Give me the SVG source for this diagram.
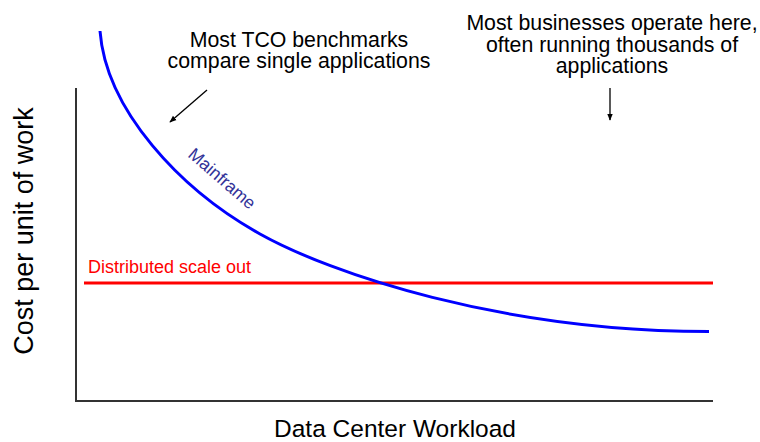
<svg xmlns="http://www.w3.org/2000/svg" width="760" height="442" viewBox="0 0 760 442">
  <style>
    text { font-family: "Liberation Sans", Arial, sans-serif; fill: #000; }
    .note { font-size: 21.3px; text-anchor: middle; }
    .axis-title { font-size: 24.5px; text-anchor: middle; }
    .axis { stroke: #333; stroke-width: 2; fill: none; }
    .pointer { stroke: #000; stroke-width: 1.3; fill: none; marker-end: url(#head); }
    .series { fill: none; stroke-width: 3; stroke-linecap: butt; }
  </style>
  <defs>
    <marker id="head" viewBox="0 0 10 10" refX="9" refY="5" markerWidth="7" markerHeight="7" markerUnits="userSpaceOnUse" orient="auto">
      <path d="M0,1 L10,5 L0,9 Z" fill="#000"/>
    </marker>
  </defs>
  <rect width="760" height="442" fill="#fff"/>

  <!-- axes -->
  <g id="axes">
    <polyline class="axis" points="76,88 76,401 713,401"/>
    <text class="axis-title" x="395" y="437">Data Center Workload</text>
    <text class="axis-title" style="font-size:27px" transform="translate(33,231) rotate(-90)">Cost per unit of work</text>
  </g>

  <!-- cost curves -->
  <g id="distributed">
    <line class="series" x1="84" y1="283" x2="713" y2="283" stroke="#ff0000"/>
    <text x="88" y="273" style="font-size:18px;fill:#ff0000">Distributed scale out</text>
  </g>
  <g id="mainframe">
    <path class="series" stroke="#0000ff" d="M100,31 C106,110 180,189.4 260,234 C330,273 500,331.5 709,331.5"/>
    <text transform="translate(187,156) rotate(41)" style="font-size:17.5px;fill:#333399">Mainframe</text>
  </g>

  <!-- callouts -->
  <g id="note-benchmarks">
    <text class="note" x="299" y="47">Most TCO benchmarks</text>
    <text class="note" x="299" y="68">compare single applications</text>
  </g>
  <g id="note-businesses">
    <text class="note" x="612" y="30">Most businesses operate here,</text>
    <text class="note" x="612" y="52">often running thousands of</text>
    <text class="note" x="612" y="73">applications</text>
  </g>

  <g id="connectors">
    <line class="pointer" x1="207" y1="90" x2="170" y2="122"/>
    <line class="pointer" x1="610" y1="88" x2="610" y2="120"/>
  </g>
</svg>
